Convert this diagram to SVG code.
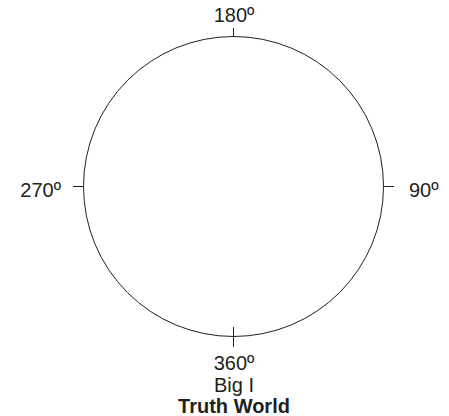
<svg xmlns="http://www.w3.org/2000/svg" width="449" height="416" viewBox="0 0 449 416">
<style>
.l{fill:#231f20;font-family:"Liberation Sans",Arial,sans-serif;font-size:20px}
.b{font-weight:bold}
.s{stroke:#231f20;stroke-width:1;fill:none}
</style>
<rect width="449" height="416" fill="#fff"/>
<g id="circle">
<circle class="s" cx="233.5" cy="186.5" r="150"/>
</g>
<g id="ticks">
<line class="s" x1="233.5" y1="28" x2="233.5" y2="36.5"/>
<line class="s" x1="233.5" y1="327" x2="233.5" y2="347"/>
<line class="s" x1="73" y1="186.5" x2="83.5" y2="186.5"/>
<line class="s" x1="383.5" y1="186.5" x2="394" y2="186.5"/>
</g>
<g id="labels">
<text class="l" x="234" y="22" text-anchor="middle">180º</text>
<text class="l" x="61" y="197" text-anchor="end">270º</text>
<text class="l" x="409" y="197">90º</text>
<text class="l" x="234" y="370" text-anchor="middle">360º</text>
<text class="l" x="234" y="392" text-anchor="middle">Big I</text>
<text class="l b" x="234" y="413" text-anchor="middle">Truth World</text>
</g>
</svg>
